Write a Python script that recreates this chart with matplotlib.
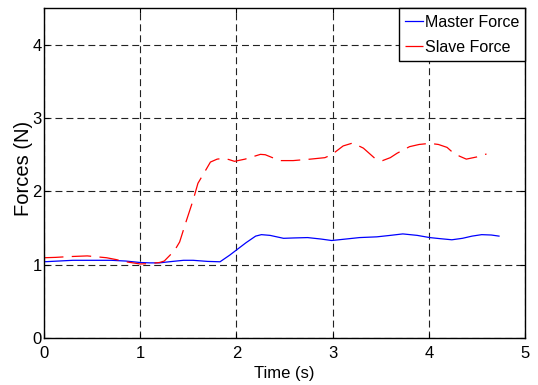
import matplotlib
matplotlib.use("Agg")
import matplotlib.pyplot as plt

plt.rcParams['font.family'] = ['Liberation Sans', 'DejaVu Sans']
plt.rcParams['lines.scale_dashes'] = False

# Master (haptic device) force, solid blue
master_t = [0.00, 0.15, 0.30, 0.50, 0.70, 0.85, 1.00, 1.10, 1.20, 1.30, 1.45, 1.55,
            1.70, 1.83, 1.93, 2.00, 2.10, 2.20, 2.26, 2.35, 2.49, 2.60, 2.74, 2.88,
            2.99, 3.10, 3.28, 3.46, 3.60, 3.73, 3.88, 4.01, 4.12, 4.24, 4.35, 4.45,
            4.55, 4.65, 4.73]
master_f = [1.04, 1.05, 1.06, 1.06, 1.06, 1.05, 1.03, 1.025, 1.025, 1.04, 1.06, 1.06,
            1.045, 1.04, 1.13, 1.20, 1.30, 1.39, 1.41, 1.40, 1.36, 1.365, 1.37, 1.35,
            1.33, 1.345, 1.37, 1.38, 1.40, 1.42, 1.40, 1.37, 1.355, 1.34, 1.36, 1.39,
            1.41, 1.405, 1.39]

# Slave (remote manipulator) force, dashed red
slave_t = [0.00, 0.12, 0.25, 0.45, 0.65, 0.75, 0.85, 1.00, 1.10, 1.20, 1.25, 1.31,
           1.36, 1.41, 1.47, 1.55, 1.60, 1.69, 1.73, 1.80, 1.86, 1.92, 1.98, 2.09,
           2.25, 2.30, 2.45, 2.59, 2.77, 2.92, 2.99, 3.05, 3.11, 3.21, 3.32, 3.44,
           3.52, 3.60, 3.67, 3.80, 3.90, 4.01, 4.10, 4.19, 4.25, 4.32, 4.39, 4.50,
           4.60]
slave_f = [1.095, 1.10, 1.11, 1.12, 1.095, 1.07, 1.04, 1.01, 1.015, 1.03, 1.05, 1.13,
           1.20, 1.31, 1.56, 1.88, 2.11, 2.31, 2.40, 2.44, 2.45, 2.435, 2.41, 2.44,
           2.505, 2.50, 2.42, 2.42, 2.44, 2.46, 2.50, 2.56, 2.62, 2.66, 2.59, 2.45,
           2.42, 2.46, 2.52, 2.61, 2.64, 2.655, 2.64, 2.60, 2.53, 2.48, 2.44, 2.47,
           2.51]

x_ticks = [0, 1, 2, 3, 4, 5]
y_ticks = [0, 1, 2, 3, 4]

fig = plt.figure(figsize=(5.38, 3.85), dpi=100)
ax = fig.add_axes([0.0818, 0.122, 0.8940, 0.857])

ax.plot(master_t, master_f, color='#0000ff', lw=0.9, label='Master Force')
ax.plot(slave_t, slave_f, color='#ff0000', lw=0.9, linestyle=(0, (14, 6)),
        label='Slave Force')

ax.set_xlim(0, 5)
ax.set_ylim(0, 4.5)
ax.set_xticks(x_ticks)
ax.set_yticks(y_ticks)
ax.grid(True, color='#222222', linestyle=(0, (5.0, 2.9)), linewidth=0.8)

ax.tick_params(direction='in', length=3.6, width=0.8, top=True, right=True,
               labelsize=12, colors='black')
ax.tick_params(axis='x', pad=5.5)
ax.tick_params(axis='y', pad=1.5)
for sp in ax.spines.values():
    sp.set_linewidth(1.0)
    sp.set_color('black')

ax.set_xlabel('Time (s)', fontsize=12)
ax.xaxis.set_label_coords(0.5, -0.084)
ax.set_ylabel('Forces (N)', fontsize=14.5, va='center')
ax.yaxis.set_label_coords(-0.042, 0.515)

leg = ax.legend(loc='upper right', bbox_to_anchor=(1.0, 1.0), borderaxespad=0,
                fancybox=False, edgecolor='black', framealpha=1, fontsize=11.5,
                handlelength=1.15, handleheight=1.15, handletextpad=0.12,
                labelspacing=0.55, borderpad=0.36)
leg.get_frame().set_linewidth(1.0)

fig.savefig('out.png', dpi=100)
